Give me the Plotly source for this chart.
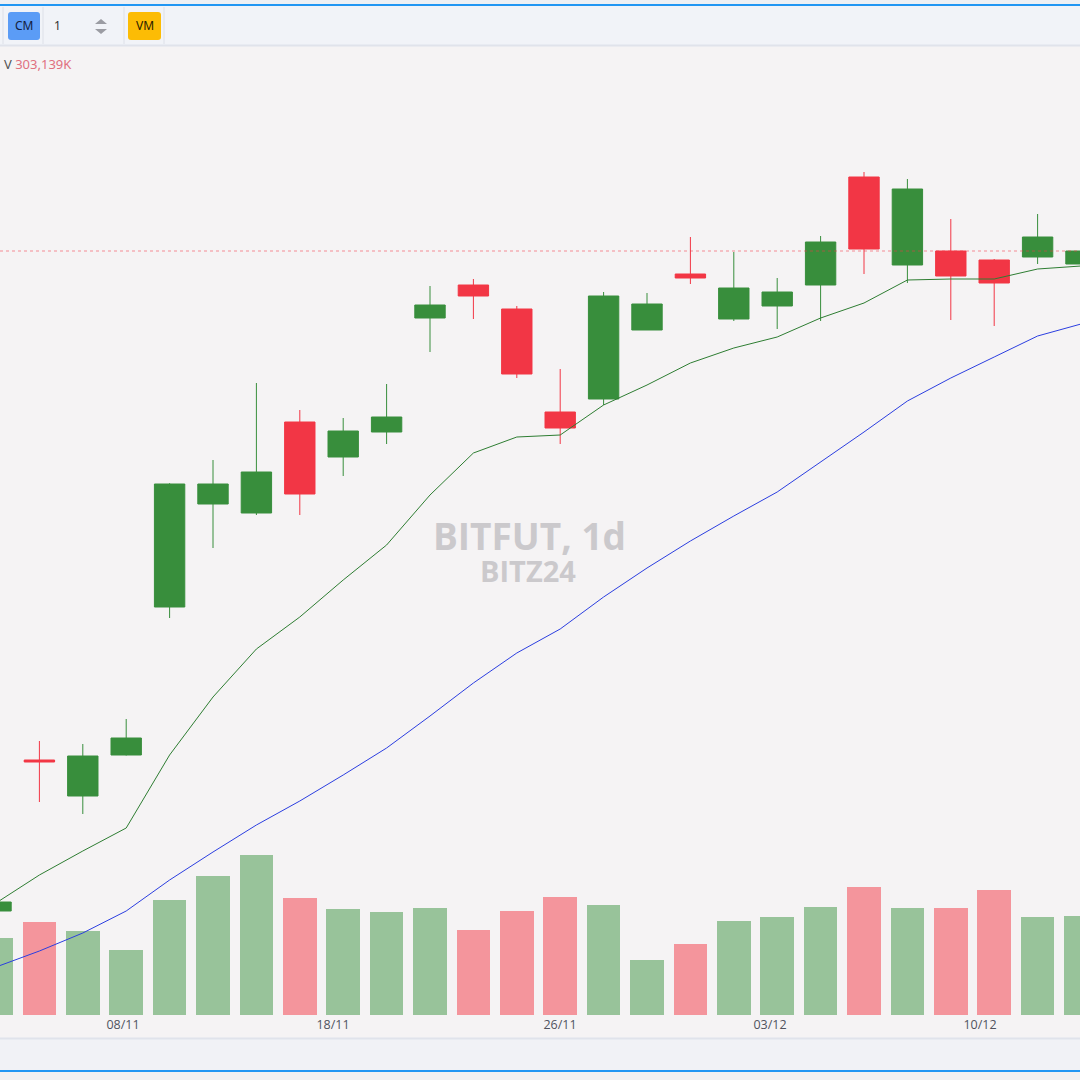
import plotly.graph_objects as go

W = H = 1080


def px(x):
    return x / W


def py(y):
    return 1 - y / H


# ---------------- data ----------------
open_ = [60544, 69000, 66984, 69280, 77568, 83336, 82832, 87928, 85968, 87368,
         93752, 95600, 94256, 88488, 89216, 93080, 96216, 93696, 94424, 95600,
         101648, 96720, 97504, 97000, 97168, 96776]
high = [61160, 70064, 69896, 71296, 84500, 85800, 90112, 88600, 88152, 90056,
        95544, 95936, 94424, 90896, 95208, 95152, 98288, 97448, 95992, 98344,
        101928, 101536, 99296, 97056, 99576, 97840]
low = [60320, 66648, 65976, 69250, 76952, 80872, 82720, 82720, 84904, 86696,
       91848, 93696, 90392, 86696, 88880, 93080, 95656, 93584, 93136, 93584,
       96216, 95712, 93640, 93304, 96776, 96552]
close = [61048, 68888, 69224, 70232, 84456, 84456, 85128, 83896, 87424, 88208,
         94480, 94984, 90616, 87592, 94984, 94536, 95992, 95432, 95208, 98008,
         97616, 100976, 96104, 95712, 98288, 97504]
volume_k = [231000, 279000, 252000, 195000, 345000, 417000, 480000, 351000, 318000, 309000,
            321000, 255000, 312000, 354000, 330000, 165000, 213000, 282000, 294000, 324000,
            384000, 321000, 321000, 375000, 294000, 297000]
ma_fast = [60992, 62560, 63904, 65192, 69280, 72528, 75216, 77008, 79080, 81040,
           83840, 86192, 87088, 87200, 88880, 90000, 91232, 92072, 92688, 93752,
           94592, 95880, 95936, 95936, 96496, 96664]
ma_slow = [57408, 58304, 59312, 60544, 62280, 63848, 65360, 66704, 68160, 69672,
           71464, 73312, 74992, 76336, 78128, 79752, 81264, 82664, 84008, 85688,
           87368, 89104, 90392, 91568, 92744, 93416]
tick_pos = [2.926, 7.765, 12.995, 17.834, 22.673]
tick_text = ["08/11", "18/11", "26/11", "03/12", "10/12"]
symbol = "BITFUT, 1d"
contract = "BITZ24"
legend_label = "V"
legend_value = "303,139K"

idx = list(range(len(open_)))

GREEN = "#388e3c"
RED = "#f23645"
BG = "#f5f3f4"

vol_colors = ["#98c39a" if c >= o else "#f4959c" for o, c in zip(open_, close)]

fig = go.Figure()

fig.add_trace(go.Bar(
    x=idx, y=volume_k, yaxis="y", marker=dict(color=vol_colors, line=dict(width=0)),
    width=0.77, hoverinfo="skip", showlegend=False,
))
fig.add_trace(go.Scatter(
    x=idx, y=ma_slow, yaxis="y2", mode="lines",
    line=dict(color="#2b3ee0", width=1), hoverinfo="skip", showlegend=False,
))
fig.add_trace(go.Scatter(
    x=idx, y=ma_fast, yaxis="y2", mode="lines",
    line=dict(color="#2e7d32", width=1), hoverinfo="skip", showlegend=False,
))
fig.add_trace(go.Candlestick(
    x=idx, open=open_, high=high, low=low, close=close, yaxis="y2",
    increasing=dict(line=dict(color=GREEN, width=1), fillcolor=GREEN),
    decreasing=dict(line=dict(color=RED, width=1), fillcolor=RED),
    whiskerwidth=0, hoverinfo="skip", showlegend=False,
))

dom = [py(1015), py(46)]

shapes = []
annotations = []

# last price dotted line
shapes.append(dict(type="line", xref="paper", yref="y2", x0=0, x1=1,
                   y0=close[-1], y1=close[-1],
                   line=dict(color="rgba(242,54,69,0.55)", width=1, dash="dot")))


def rect(x0, y0, x1, y1, fill, line_w=0, line_c=None):
    d = dict(type="rect", xref="paper", yref="paper", x0=px(x0), x1=px(x1),
             y0=py(y1), y1=py(y0), fillcolor=fill, layer="above",
             line=dict(width=line_w, color=line_c or fill))
    return d


def rrect(x0, y0, x1, y1, r, fill):
    X = lambda v: px(v)
    Y = lambda v: py(v)
    path = (f"M {X(x0 + r)},{Y(y0)} L {X(x1 - r)},{Y(y0)} Q {X(x1)},{Y(y0)} {X(x1)},{Y(y0 + r)} "
            f"L {X(x1)},{Y(y1 - r)} Q {X(x1)},{Y(y1)} {X(x1 - r)},{Y(y1)} "
            f"L {X(x0 + r)},{Y(y1)} Q {X(x0)},{Y(y1)} {X(x0)},{Y(y1 - r)} "
            f"L {X(x0)},{Y(y0 + r)} Q {X(x0)},{Y(y0)} {X(x0 + r)},{Y(y0)} Z")
    return dict(type="path", xref="paper", yref="paper", path=path,
                fillcolor=fill, line=dict(width=0), layer="above")


def hline(y, color, w, x0=0, x1=1080):
    return dict(type="line", xref="paper", yref="paper", x0=px(x0), x1=px(x1),
                y0=py(y), y1=py(y), line=dict(color=color, width=w), layer="above")


def vline(x, y0, y1, color, w=1):
    return dict(type="line", xref="paper", yref="paper", x0=px(x), x1=px(x),
                y0=py(y0), y1=py(y1), line=dict(color=color, width=w), layer="above")


# top toolbar
shapes.append(rect(0, 0, 1080, 4, "#eef0f4"))
shapes.append(rect(0, 6, 1080, 45, "#f1f3f8"))
shapes.append(hline(5, "#2196f3", 2))
shapes.append(hline(45.5, "#e0e3eb", 2))
for sx in [3, 43, 124, 164]:
    shapes.append(vline(sx, 7, 44, "#dde0e8", 1))
shapes.append(rrect(8, 12, 40, 40, 3, "#5b9cf6"))
shapes.append(rrect(128, 12, 161, 40, 3, "#fcbc05"))
# spinner arrows
up = f"M {px(95)},{py(24)} L {px(101)},{py(19)} L {px(107)},{py(24)} Z"
dn = f"M {px(95)},{py(29)} L {px(101)},{py(34)} L {px(107)},{py(29)} Z"
for p in (up, dn):
    shapes.append(dict(type="path", xref="paper", yref="paper", path=p,
                       fillcolor="#9b9ca3", line=dict(width=0), layer="above"))

# bottom strip
shapes.append(rect(0, 1039, 1080, 1070, "#f1f2f6"))
shapes.append(hline(1038.5, "#e0e3eb", 2))
shapes.append(rect(0, 1072, 1080, 1080, "#f0f0f2"))
shapes.append(hline(1071, "#2196f3", 2))

annotations.append(dict(text="CM", x=px(24), y=py(26), xref="paper", yref="paper",
                        showarrow=False, xanchor="center", yanchor="middle",
                        font=dict(family="Noto Sans", size=12, color="#132040")))
annotations.append(dict(text="VM", x=px(144.5), y=py(26), xref="paper", yref="paper",
                        showarrow=False, xanchor="center", yanchor="middle",
                        font=dict(family="Noto Sans", size=12, color="#2a2000")))
annotations.append(dict(text="1", x=px(52), y=py(26), xref="paper", yref="paper",
                        showarrow=False, xanchor="left", yanchor="middle",
                        font=dict(family="Noto Sans", size=12, color="#333")))
annotations.append(dict(
    text=f"{legend_label} <span style='color:#e0707f'>{legend_value}</span>",
    x=px(2), y=py(64), xref="paper", yref="paper", showarrow=False,
    xanchor="left", yanchor="middle",
    font=dict(family="Noto Sans", size=13, color="#555"),
))
annotations.append(dict(
    text=f"<b>{symbol}</b>", x=px(529), y=py(535), xref="paper", yref="paper",
    showarrow=False, xanchor="center", yanchor="middle",
    font=dict(family="Open Sans", size=37, color="#cbc9cc"),
))
annotations.append(dict(
    text=f"<b>{contract}</b>", x=px(528), y=py(570), xref="paper", yref="paper",
    showarrow=False, xanchor="center", yanchor="middle",
    font=dict(family="Open Sans", size=29, color="#cbc9cc"),
))

fig.update_layout(
    width=W, height=H,
    margin=dict(l=0, r=0, t=0, b=0),
    paper_bgcolor=BG, plot_bgcolor=BG,
    boxgap=0.3,
    boxgroupgap=0,
    bargap=0,
    showlegend=False,
    hovermode=False,
    xaxis=dict(range=[0.0922, 24.977], domain=[0, 1], showgrid=False, zeroline=False,
               showline=False, tickmode="array", tickvals=tick_pos, ticktext=tick_text,
               ticks="", tickfont=dict(family="Open Sans", size=12.5, color="#50535e"),
               rangeslider=dict(visible=False), fixedrange=True),
    yaxis=dict(domain=dom, range=[0, 2907000], visible=False, fixedrange=True),
    yaxis2=dict(overlaying="y", range=[54720, 108984], visible=False, fixedrange=True),
    shapes=shapes,
    annotations=annotations,
)

fig.write_html("out.html")
